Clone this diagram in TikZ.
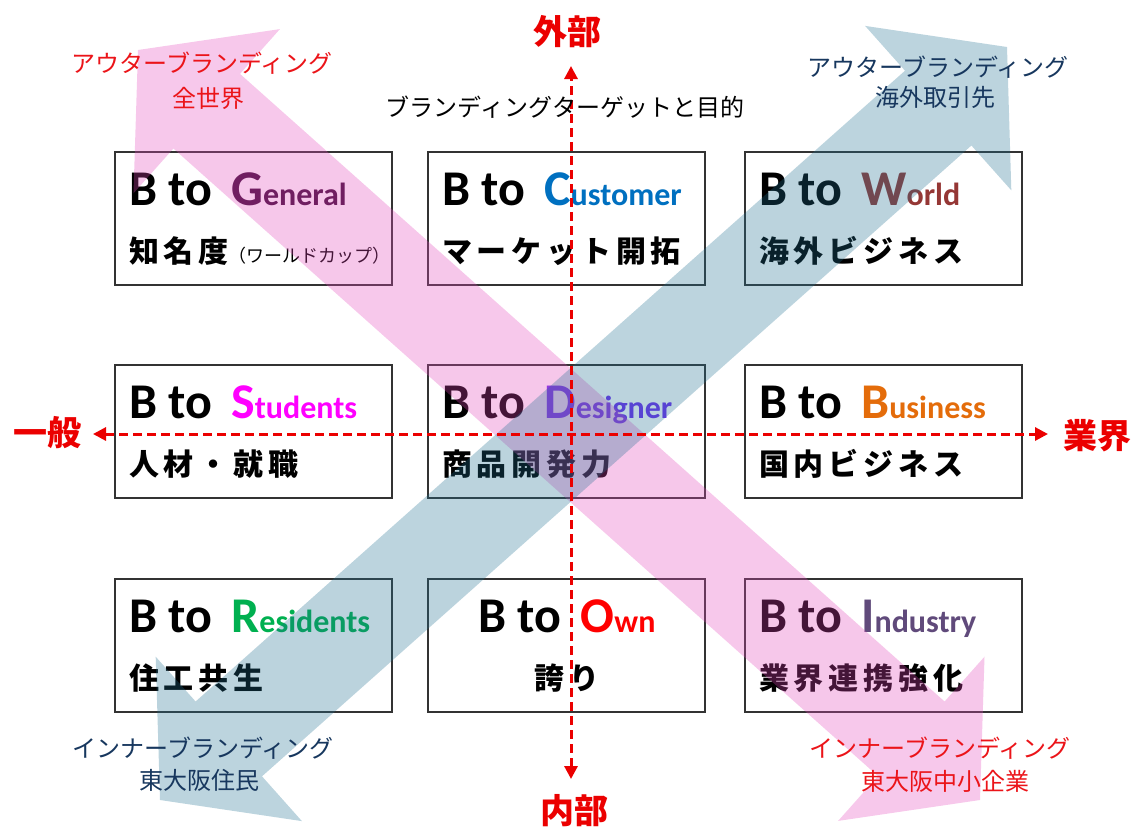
\documentclass[tikz,border=0pt]{standalone}
\usepackage{fontspec}
\setmainfont{Carlito}
\newfontfamily\jp{Noto Sans CJK JP}
\newfontfamily\jpw{Noto Sans CJK JP}[LetterSpace=16]
\usetikzlibrary{arrows.meta}
\definecolor{pinkA}{RGB}{228,72,188}
\definecolor{blueA}{RGB}{32,112,145}
\definecolor{axisred}{RGB}{235,0,0}
\definecolor{labred}{RGB}{235,20,25}
\definecolor{navy}{RGB}{23,55,94}
\definecolor{cG}{RGB}{62,12,58}
\definecolor{cC}{RGB}{0,112,192}
\definecolor{cW}{RGB}{149,55,53}
\definecolor{cS}{RGB}{255,0,255}
\definecolor{cD}{RGB}{112,48,240}
\definecolor{cB}{RGB}{228,108,10}
\definecolor{cR}{RGB}{0,176,80}
\definecolor{cO}{RGB}{255,0,0}
\definecolor{cI}{RGB}{96,74,123}
\newcommand\hd[3]{\hspace{19pt}{\color{#1}#2\fontsize{32}{32}\selectfont #3}}
\begin{document}
\begin{tikzpicture}[x=1pt,y=-1pt,
  cell/.style={draw=black!80,line width=1.4pt,fill=white,minimum width=277pt,minimum height=133pt,inner sep=0pt,outer sep=0pt,anchor=north west},
  head/.style={anchor=base west,inner sep=0pt,font=\fontsize{50}{50}\selectfont\bfseries},
  headc/.style={head,anchor=base},
  sub/.style={anchor=base west,inner sep=0pt,font=\jpw\bfseries\fontsize{30}{30}\selectfont},
  subc/.style={sub,anchor=base},
  lab/.style={inner sep=0pt,font=\jp\fontsize{24}{24}\selectfont},
  axlab/.style={inner sep=0pt,text=axisred,font=\jp\bfseries\fontsize{34}{34}\selectfont},
  axis/.style={draw=axisred,line width=3pt,dash pattern=on 9pt off 5pt,{Triangle[length=13pt,width=13pt]}-{Triangle[length=13pt,width=13pt]}},
  band/.style={draw=none,fill opacity=0.3}
]
\useasboundingbox (0,0) rectangle (1137,828);
% boxes
\node[cell] (bg) at (115,152) {};
\node[cell] (bc) at (428,152) {};
\node[cell] (bw) at (745,152) {};
\node[cell] (bs) at (115,365) {};
\node[cell] (bd) at (428,365) {};
\node[cell] (bb) at (745,365) {};
\node[cell] (br) at (115,579) {};
\node[cell] (bo) at (428,579) {};
\node[cell] (bi) at (745,579) {};
% box texts
\node[head] (tg) at (129,205) {B to\hd{cG}{G}{eneral}};
\node[sub] (sg) at (129,262) {知名度{\jp\mdseries\fontsize{18}{18}\selectfont （ワールドカップ）}};
\node[head] (tc) at (442,205) {B to\hd{cC}{C}{ustomer}};
\node[sub] (sc) at (442,262) {マーケット開拓};
\node[head] (tw) at (759,205) {B to\hd{cW}{W}{orld}};
\node[sub] (sw) at (759,262) {海外ビジネス};
\node[head] (ts) at (129,418) {B to\hd{cS}{S}{tudents}};
\node[sub] (ss) at (129,475) {人材・就職};
\node[head] (td) at (442,418) {B to\hd{cD}{D}{esigner}};
\node[sub] (sd) at (442,475) {商品開発力};
\node[head] (tb) at (759,418) {B to\hd{cB}{B}{usiness}};
\node[sub] (sb) at (759,475) {国内ビジネス};
\node[head] (tr) at (129,632) {B to\hd{cR}{R}{esidents}};
\node[sub] (sr) at (129,689) {住工共生};
\node[headc] (to) at (567,632) {B to\hd{cO}{O}{wn}};
\node[subc] (so) at (567,689) {誇り};
\node[head] (ti) at (759,632) {B to\hd{cI}{I}{ndustry}};
\node[sub] (si) at (759,689) {業界連携強化};
% big double arrows
\fill[band,fill=pinkA] (138,50) -- (279.9,29.1) -- (240,73.9) -- (944.6,701.5) -- (984.5,656.7) -- (980,800) -- (838.1,820.9) -- (878,776.1) -- (173.4,148.5) -- (133.5,193.3) -- cycle;
\fill[band,fill=blueA] (1007,47) -- (1011.3,190.3) -- (971.4,145.5) -- (262,776.3) -- (301.9,821.1) -- (160,800) -- (155.7,656.7) -- (195.6,701.5) -- (905,70.7) -- (865.1,25.9) -- cycle;
% axes
\coordinate (vt) at (571,66);
\coordinate (vb) at (571,779);
\coordinate (hl) at (93,434);
\coordinate (hr) at (1048,434);
\draw[axis] (vb) -- (vt);
\draw[axis] (hl) -- (hr);
\node[axlab] (ext) at (567,32) {外部};
\node[axlab] (int) at (574,811) {内部};
\node[axlab] (gen) at (47,433) {一般};
\node[axlab] (ind) at (1097,436) {業界};
% title
\node[lab] (title) at (565,107) {ブランディングターゲットと目的};
% corner labels
\node[lab,text=labred] (tl1) at (202,63) {アウターブランディング};
\node[lab,text=labred] (tl2) at (208,98) {全世界};
\node[lab,text=navy] (tr1) at (938,67) {アウターブランディング};
\node[lab,text=navy] (tr2) at (935,97) {海外取引先};
\node[lab,text=navy] (bl1) at (203,748) {インナーブランディング};
\node[lab,text=navy] (bl2) at (199,780) {東大阪住民};
\node[lab,text=labred] (br1) at (940,748) {インナーブランディング};
\node[lab,text=labred] (br2) at (945,781) {東大阪中小企業};
\end{tikzpicture}
\end{document}
